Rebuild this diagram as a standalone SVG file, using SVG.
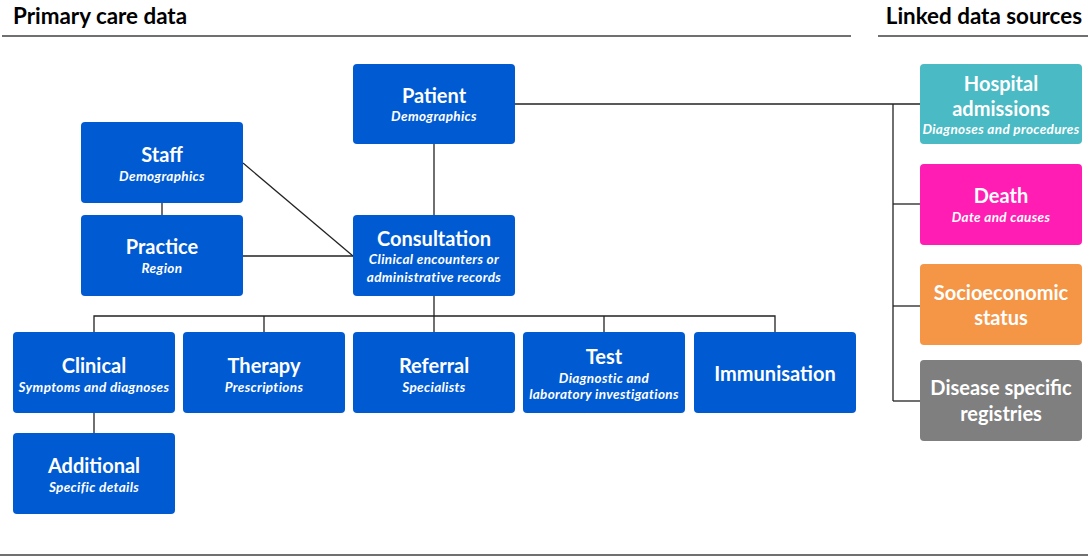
<svg xmlns="http://www.w3.org/2000/svg" width="1088" height="557" viewBox="0 0 1088 557">
<style>
.hdr{font-family:Lato,"Open Sans","Liberation Sans",sans-serif;font-weight:bold;font-size:22.4px;fill:#000}
.rule{stroke:#404040;stroke-width:1.5;fill:none}
.box{stroke:none}
.blue{fill:#005AD2}
.teal{fill:#4ABAC4}
.pink{fill:#FF1DB4}
.orange{fill:#F59647}
.grey{fill:#7F7F7F}
.t{font-family:Lato,"Open Sans","Liberation Sans",sans-serif;font-weight:bold;font-size:20px;fill:#fff;text-anchor:middle}
.s{font-family:Lato,"Open Sans","Liberation Sans",sans-serif;font-weight:bold;font-style:italic;font-size:13.5px;letter-spacing:0.35px;fill:#fff;text-anchor:middle}
.c{stroke:#222;stroke-width:1.3;fill:none}
</style>
<g id="headers">
<text class="hdr" x="13" y="24">Primary care data</text>
<line class="rule" x1="2" y1="36" x2="851" y2="36"/>
<text class="hdr" x="1082" y="24" text-anchor="end">Linked data sources</text>
<line class="rule" x1="878" y1="36" x2="1088" y2="36"/>
<line class="rule" x1="0" y1="555" x2="1088" y2="555"/>
</g>
<g id="connectors">
<line class="c" x1="515" y1="104" x2="920" y2="104"/>
<line class="c" x1="893" y1="104" x2="893" y2="401"/>
<line class="c" x1="893" y1="204" x2="920" y2="204"/>
<line class="c" x1="893" y1="306" x2="920" y2="306"/>
<line class="c" x1="893" y1="401" x2="920" y2="401"/>
<line class="c" x1="434" y1="144" x2="434" y2="215"/>
<line class="c" x1="162" y1="203" x2="162" y2="215"/>
<line class="c" x1="243" y1="163" x2="353" y2="256"/>
<line class="c" x1="243" y1="256" x2="353" y2="256"/>
<polyline class="c" points="434,296 434,316"/>
<polyline class="c" points="94,332 94,316 775,316 775,332"/>
<line class="c" x1="264" y1="316" x2="264" y2="332"/>
<line class="c" x1="434" y1="316" x2="434" y2="332"/>
<line class="c" x1="604" y1="316" x2="604" y2="332"/>
<line class="c" x1="94" y1="413" x2="94" y2="433"/>
</g>
<g id="patient"><rect class="box blue" x="353" y="64" width="162" height="80" rx="4"/><text class="t" x="434" y="103">Patient</text><text class="s" x="434" y="121">Demographics</text></g>
<g id="staff"><rect class="box blue" x="81" y="122" width="162" height="81" rx="4"/><text class="t" x="162" y="162">Staff</text><text class="s" x="162" y="181">Demographics</text></g>
<g id="practice"><rect class="box blue" x="81" y="215" width="162" height="81" rx="4"/><text class="t" x="162" y="254">Practice</text><text class="s" x="162" y="273">Region</text></g>
<g id="consultation"><rect class="box blue" x="353" y="215" width="162" height="81" rx="4"/><text class="t" x="434" y="246">Consultation</text><text class="s" x="434" y="264">Clinical encounters or</text><text class="s" x="434" y="282">administrative records</text></g>
<g id="clinical"><rect class="box blue" x="13" y="332" width="162" height="81" rx="4"/><text class="t" x="94" y="373">Clinical</text><text class="s" x="94" y="392">Symptoms and diagnoses</text></g>
<g id="therapy"><rect class="box blue" x="183" y="332" width="162" height="81" rx="4"/><text class="t" x="264" y="373">Therapy</text><text class="s" x="264" y="392">Prescriptions</text></g>
<g id="referral"><rect class="box blue" x="353" y="332" width="162" height="81" rx="4"/><text class="t" x="434" y="373">Referral</text><text class="s" x="434" y="392">Specialists</text></g>
<g id="test"><rect class="box blue" x="523" y="332" width="162" height="81" rx="4"/><text class="t" x="604" y="364">Test</text><text class="s" x="604" y="383">Diagnostic and</text><text class="s" x="604" y="399">laboratory investigations</text></g>
<g id="immunisation"><rect class="box blue" x="694" y="332" width="162" height="81" rx="4"/><text class="t" x="775" y="381">Immunisation</text></g>
<g id="additional"><rect class="box blue" x="13" y="433" width="162" height="81" rx="4"/><text class="t" x="94" y="473">Additional</text><text class="s" x="94" y="492">Specific details</text></g>
<g id="hospital"><rect class="box teal" x="920" y="64" width="162" height="80" rx="4"/><text class="t" x="1001" y="91">Hospital</text><text class="t" x="1001" y="116">admissions</text><text class="s" x="1001" y="134">Diagnoses and procedures</text></g>
<g id="death"><rect class="box pink" x="920" y="164" width="162" height="81" rx="4"/><text class="t" x="1001" y="203">Death</text><text class="s" x="1001" y="222">Date and causes</text></g>
<g id="socioeconomic"><rect class="box orange" x="920" y="264" width="162" height="81" rx="4"/><text class="t" x="1001" y="300">Socioeconomic</text><text class="t" x="1001" y="325">status</text></g>
<g id="disease"><rect class="box grey" x="920" y="360" width="162" height="81" rx="4"/><text class="t" x="1001" y="395">Disease specific</text><text class="t" x="1001" y="421">registries</text></g>
</svg>
